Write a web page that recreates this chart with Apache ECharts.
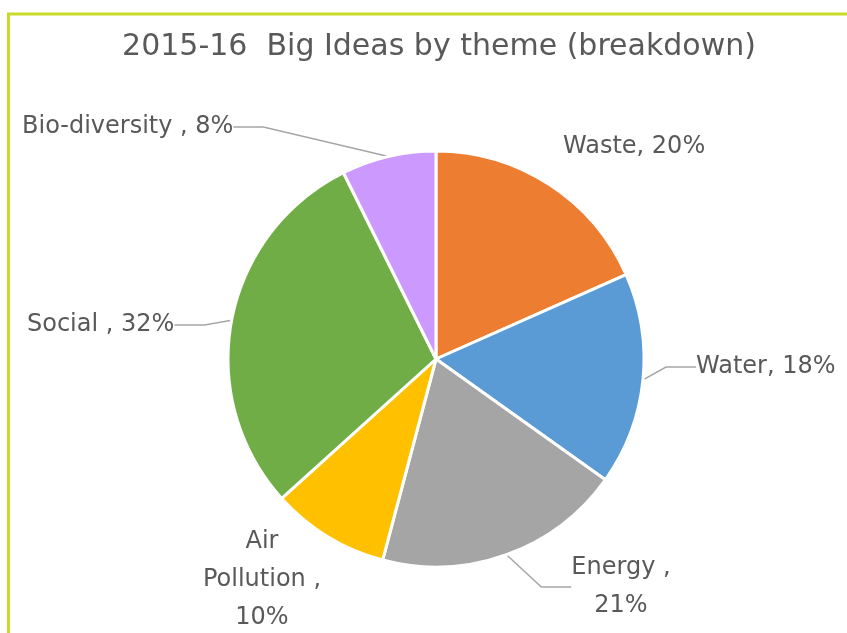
<!DOCTYPE html>
<html><head><meta charset="utf-8">
<script src="https://cdn.jsdelivr.net/npm/echarts@6/dist/echarts.min.js"></script>
<style>html,body{margin:0;padding:0;background:#fff}#c{width:847px;height:633px}</style>
</head><body><div id="c"></div>
<script>
const categories = ['Waste', 'Water', 'Energy', 'Air Pollution', 'Social', 'Bio-diversity'];
const values = [20, 18, 21, 10, 32, 8];
const colors = ['#ED7D31', '#5B9BD5', '#A5A5A5', '#FFC000', '#70AD47', '#CC99FF'];
const labelTexts = ['Waste, 20%', 'Water, 18%', 'Energy ,\n21%', 'Air\nPollution ,\n10%', 'Social , 32%', 'Bio-diversity , 8%'];

// label layout (positions of the text boxes)
const lay = [
  {x: 563, y: 147, align: 'left'},
  {x: 696, y: 367, align: 'left'},
  {x: 621, y: 587, align: 'center'},
  {x: 262, y: 580, align: 'center'},
  {x: 27, y: 325, align: 'left'},
  {x: 22, y: 127, align: 'left'}
];
const showLine = [false, true, true, false, true, true];

const chart = echarts.init(document.getElementById('c'), null, {renderer: 'canvas'});
chart.setOption({
  animation: false,
  title: {
    text: '2015-16  Big Ideas by theme (breakdown)',
    left: 434, top: 27, textAlign: 'center',
    textStyle: {fontFamily: 'DejaVu Sans', fontSize: 30, fontWeight: 'normal', color: '#595959'}
  },
  graphic: [
    {type: 'line', shape: {x1: 7, y1: 14, x2: 847, y2: 14}, style: {stroke: '#C9DA2A', lineWidth: 3}},
    {type: 'line', shape: {x1: 8.5, y1: 13, x2: 8.5, y2: 633}, style: {stroke: '#C9DA2A', lineWidth: 3}}
  ],
  series: [{
    type: 'pie',
    center: [436, 359],
    radius: 208,
    startAngle: 90,
    clockwise: true,
    itemStyle: {borderColor: '#ffffff', borderWidth: 3},
    label: {
      show: true,
      position: 'outside',
      fontFamily: 'DejaVu Sans',
      fontSize: 24,
      color: '#595959',
      lineHeight: 38,
      formatter: p => labelTexts[p.dataIndex]
    },
    labelLine: {show: true, lineStyle: {color: '#A6A6A6', width: 1.5}, smooth: false},
    labelLayout: function (p) {
      const l = lay[p.dataIndex];
      return {x: l.x, y: l.y, align: l.align, verticalAlign: 'middle', hideOverlap: false};
    },
    data: categories.map((c, i) => ({
      name: c, value: values[i],
      itemStyle: {color: colors[i]},
      labelLine: {show: showLine[i]}
    }))
  }]
});
</script></body></html>
